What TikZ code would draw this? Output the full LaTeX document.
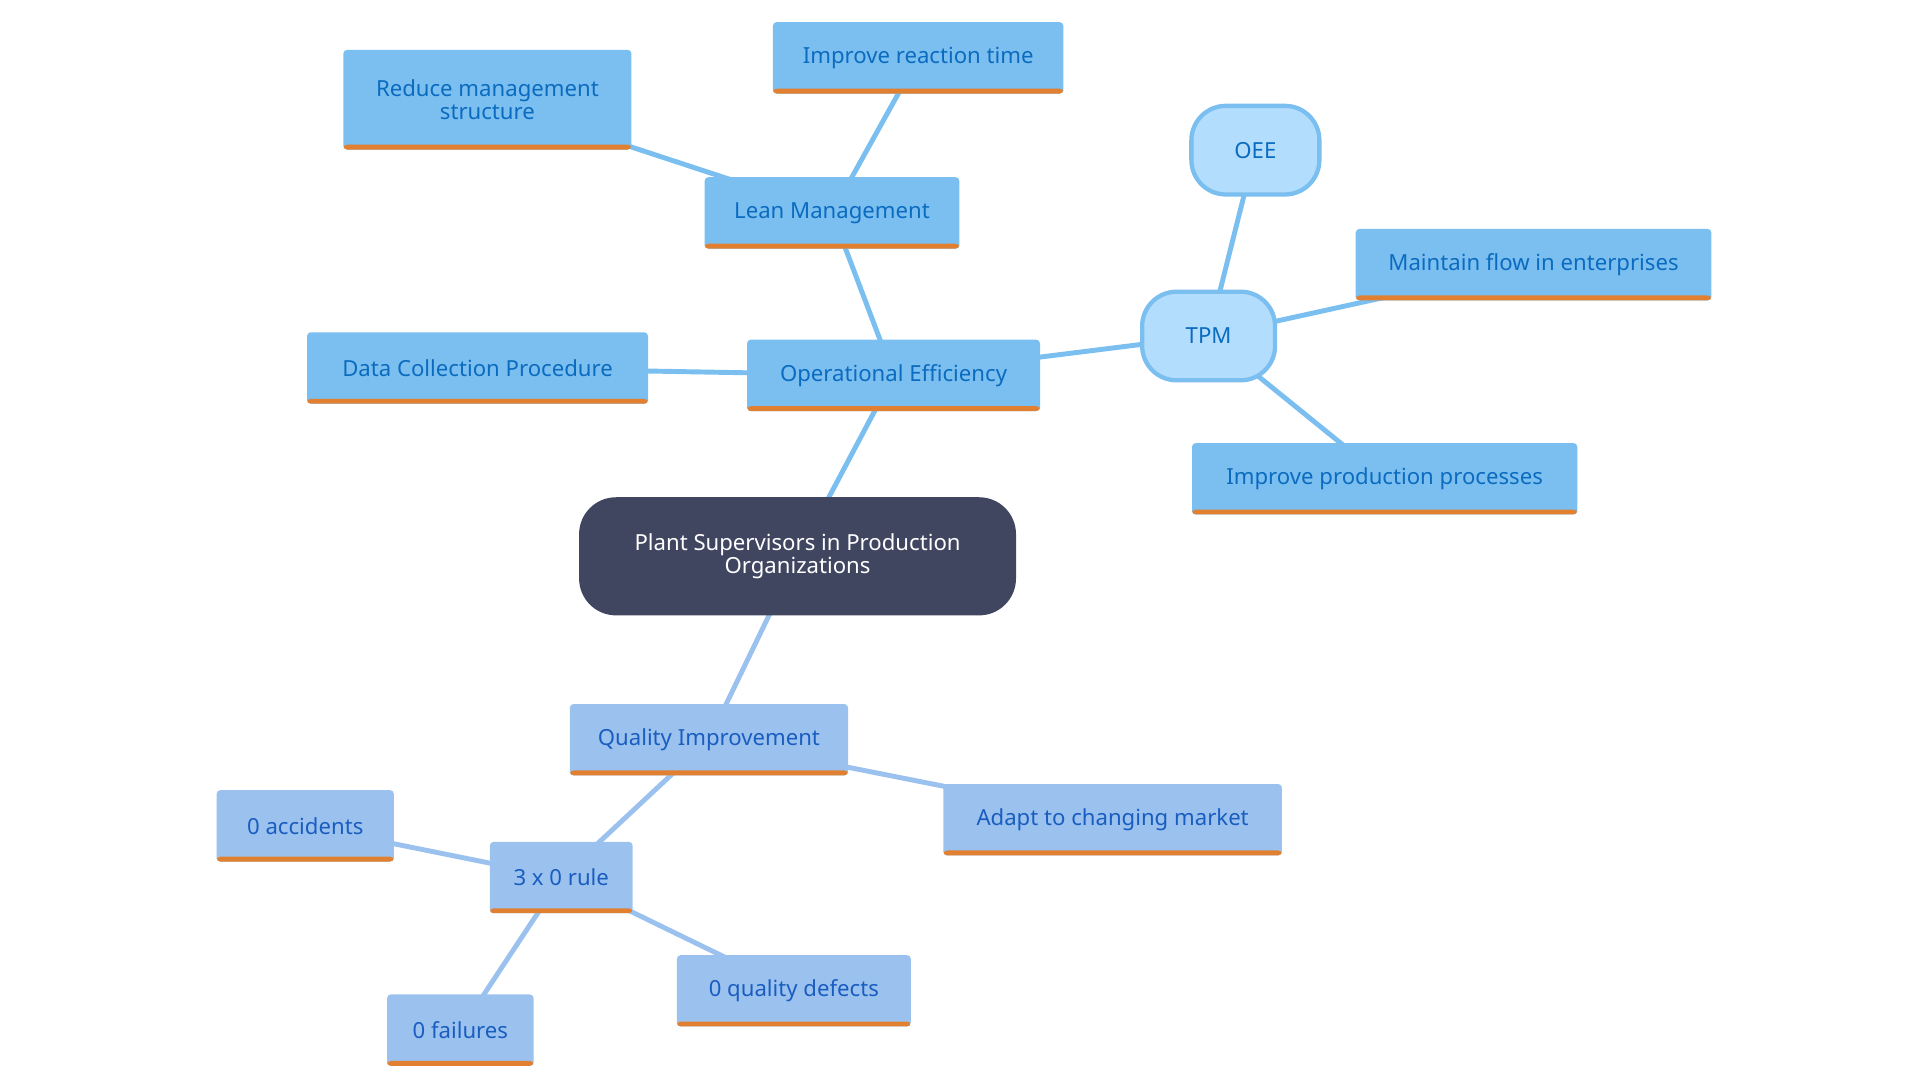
\documentclass[tikz,border=0pt]{standalone}
\usepackage{fontspec}
\setmainfont{Noto Sans}
\usetikzlibrary{backgrounds}
\definecolor{bx}{HTML}{7BBFF0}
\definecolor{bq}{HTML}{9BC2EE}
\definecolor{tb}{HTML}{0B6BBF}
\definecolor{tq}{HTML}{1A5DC0}
\definecolor{org}{HTML}{E08030}
\definecolor{dk}{HTML}{404560}
\definecolor{lt}{HTML}{B3DDFD}
\begin{document}
\begin{tikzpicture}[x=1pt,y=-1pt,
  base/.style={inner sep=0pt,align=center,font=\fontsize{18}{21}\selectfont,rounded corners=3pt},
  bar/.style={path picture={\fill[org] (path picture bounding box.south west) rectangle ([yshift=4pt]path picture bounding box.south east);}},
  b/.style={base,bar,fill=bx,text=tb},
  q/.style={base,bar,fill=bq,text=tq},
  t/.style={base,fill=lt,draw=bx,line width=3.5pt,rounded corners=28pt,text=tb},
  e/.style={bx,line width=4pt},
  eq/.style={bq,line width=4pt}]
\useasboundingbox (0,0) rectangle (1560,878);
\node[base,fill=dk,text=white,rounded corners=30pt,minimum width=355pt,minimum height=96pt] (c) at (648,452) {Plant Supervisors in Production\\[-3pt]Organizations};
\node[b,minimum width=238pt,minimum height=58pt] (oe) at (726,305) {Operational Efficiency};
\node[b,minimum width=207pt,minimum height=58pt] (lm) at (676,173) {Lean Management};
\node[b,minimum width=236pt,minimum height=58pt] (rt) at (746,47) {Improve reaction time};
\node[b,minimum width=234pt,minimum height=81pt] (rm) at (396,81) {Reduce management\\[-3pt]structure};
\node[b,minimum width=277pt,minimum height=58pt] (dc) at (388,299) {Data Collection Procedure};
\node[t,minimum width=108pt,minimum height=72pt] (tpm) at (982,273) {TPM};
\node[t,minimum width=104pt,minimum height=72pt] (oee) at (1020,122) {OEE};
\node[b,minimum width=289pt,minimum height=58pt] (mf) at (1246,215) {Maintain flow in enterprises};
\node[b,minimum width=313pt,minimum height=58pt] (pp) at (1125,389) {Improve production processes};
\node[q,minimum width=226pt,minimum height=58pt] (qi) at (576,601) {Quality Improvement};
\node[q,minimum width=275pt,minimum height=58pt] (am) at (904,666) {Adapt to changing market};
\node[q,minimum width=116pt,minimum height=58pt] (r3) at (456,713) {3 x 0 rule};
\node[q,minimum width=144pt,minimum height=58pt] (ac) at (248,671) {0 accidents};
\node[q,minimum width=190pt,minimum height=58pt] (qd) at (645,805) {0 quality defects};
\node[q,minimum width=119pt,minimum height=58pt] (fa) at (374,837) {0 failures};
\begin{scope}[on background layer]
\draw[e] (c.center) -- (oe.center);
\draw[e] (oe.center) -- (lm.center);
\draw[e] (lm.center) -- (rt.center);
\draw[e] (lm.center) -- (rm.center);
\draw[e] (oe.center) -- (dc.center);
\draw[e] (oe.center) -- (tpm.center);
\draw[e] (tpm.center) -- (oee.center);
\draw[e] (tpm.center) -- (mf.center);
\draw[e] (tpm.center) -- (pp.center);
\draw[eq] (c.center) -- (qi.center);
\draw[eq] (qi.center) -- (am.center);
\draw[eq] (qi.center) -- (r3.center);
\draw[eq] (r3.center) -- (ac.center);
\draw[eq] (r3.center) -- (qd.center);
\draw[eq] (r3.center) -- (fa.center);
\end{scope}
\end{tikzpicture}
\end{document}
